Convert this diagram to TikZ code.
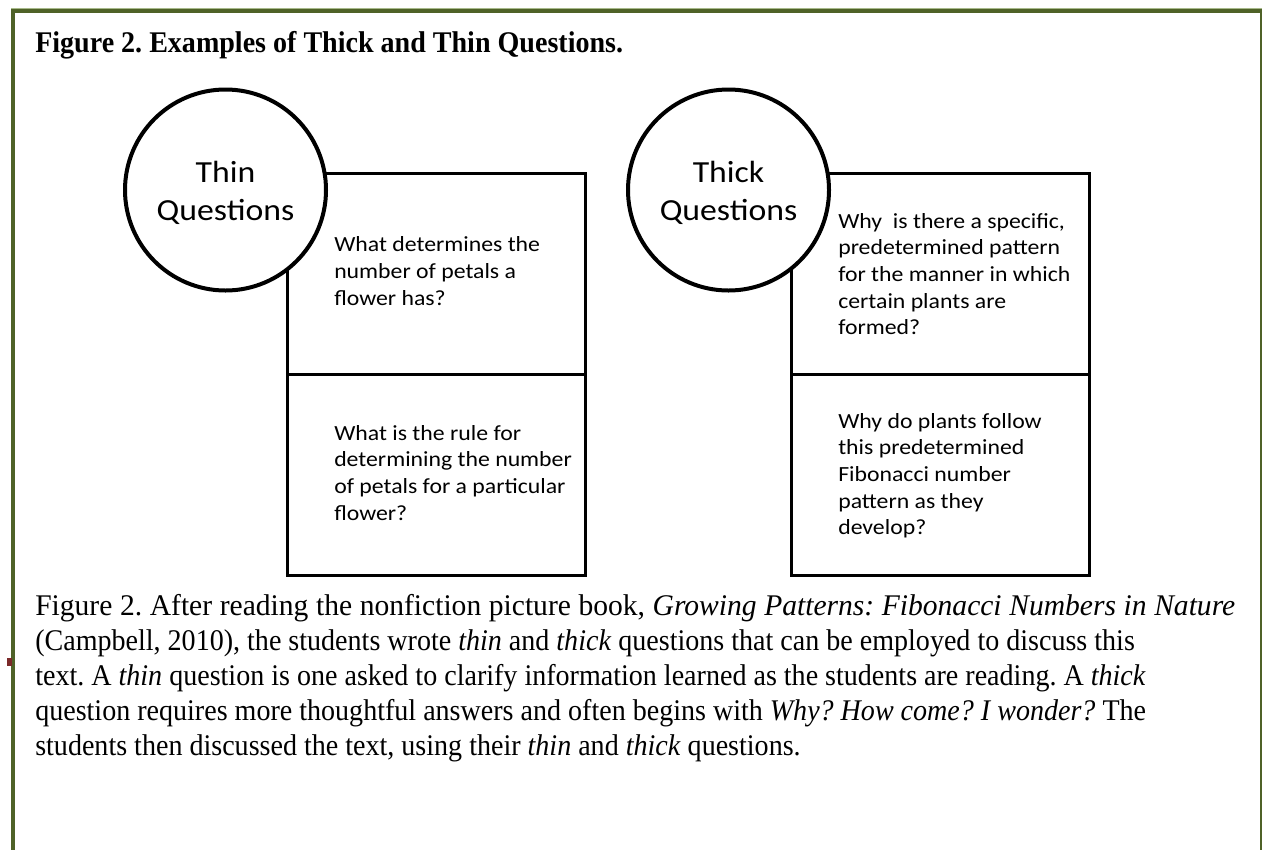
\documentclass[tikz,border=0pt]{standalone}
\usepackage{fontspec}
\setmainfont[FakeStretch=0.935]{Liberation Serif}
\newfontfamily\capwide[FakeStretch=0.985]{Liberation Serif}
\newfontfamily\calib[FakeStretch=1.1]{Carlito}
\definecolor{olive}{HTML}{4F6228}
\definecolor{olivelight}{HTML}{A7B98A}
\definecolor{markred}{HTML}{7B2A2A}
\frenchspacing
\begin{document}
\begin{tikzpicture}[x=0.75pt,y=-0.75pt,
  qbox/.style={draw=black,line width=2.25pt,inner sep=0pt,minimum width=223.5pt,minimum height=150.75pt},
  qcircle/.style={draw=black,fill=white,circle,line width=3pt,inner sep=0pt,minimum size=150.75pt},
  ctext/.style={font={\calib\fontsize{23}{28.5}\selectfont},align=center,anchor=base,inner sep=0pt},
  btext/.style={font={\calib\fontsize{16.2}{20}\selectfont},align=left,anchor=base west,inner sep=0pt},
  captext/.style={font={\fontsize{22.5}{26.25}\selectfont},align=left,anchor=base west,inner sep=0pt}]
\useasboundingbox (0,0) rectangle (1262,850);
\fill[white] (0,0) rectangle (1262,850);
% page border
\fill[olivelight] (11,7.5) rectangle (1262,9);
\fill[olive] (11,9) rectangle (1262,13);
\fill[olive] (11,9) rectangle (15,850);
\fill[olive] (1260,9) rectangle (1262,850);
\fill[markred] (7,658) rectangle (12,666);
% title
\node[font={\bfseries\fontsize{22.5}{26}\selectfont},anchor=base west,inner sep=0pt] (title) at (35,52) {Figure 2. Examples of Thick and Thin Questions.};
% boxes
\node[qbox,anchor=north west] (thinA) at (286,172) {};
\node[qbox,anchor=north west] (thinB) at (286,373) {};
\node[qbox,anchor=north west] (thickA) at (790,172) {};
\node[qbox,anchor=north west] (thickB) at (790,373) {};
% circles
\node[qcircle] (thinC) at (225.5,190) {};
\node[qcircle] (thickC) at (728.5,190) {};
\node[ctext] (thinT) at (225.5,220) {Thin\\Questions};
\node[ctext] (thickT) at (728.5,220) {Thick\\Questions};
% box texts (anchored at the baseline of the last line)
\node[btext] (tA) at (334,305.3) {What determines the\\number of petals a\\flower has?};
\node[btext] (tB) at (334,520) {What is the rule for\\determining the number\\of petals for a particular\\flower?};
\node[btext] (kA) at (838,334.7) {Why\ \ is there a specific,\\predetermined pattern\\for the manner in which\\certain plants are\\formed?};
\node[btext] (kB) at (838,534.7) {Why do plants follow\\this predetermined\\Fibonacci number\\pattern as they\\develop?};
% caption
\node[captext] (cap) at (35,755) {\hbox to 900pt{\capwide Figure 2. After reading the nonfiction picture book, \textit{Growing Patterns: Fibonacci Numbers in Nature}}\\
(Campbell, 2010), the students wrote \textit{thin} and \textit{thick} questions that can be employed to discuss this\\
text. A \textit{thin} question is one asked to clarify information learned as the students are reading. A \textit{thick}\\
question requires more thoughtful answers and often begins with \textit{Why? How come? I wonder?} The\\
students then discussed the text, using their \textit{thin} and \textit{thick} questions.};
\end{tikzpicture}
\end{document}
